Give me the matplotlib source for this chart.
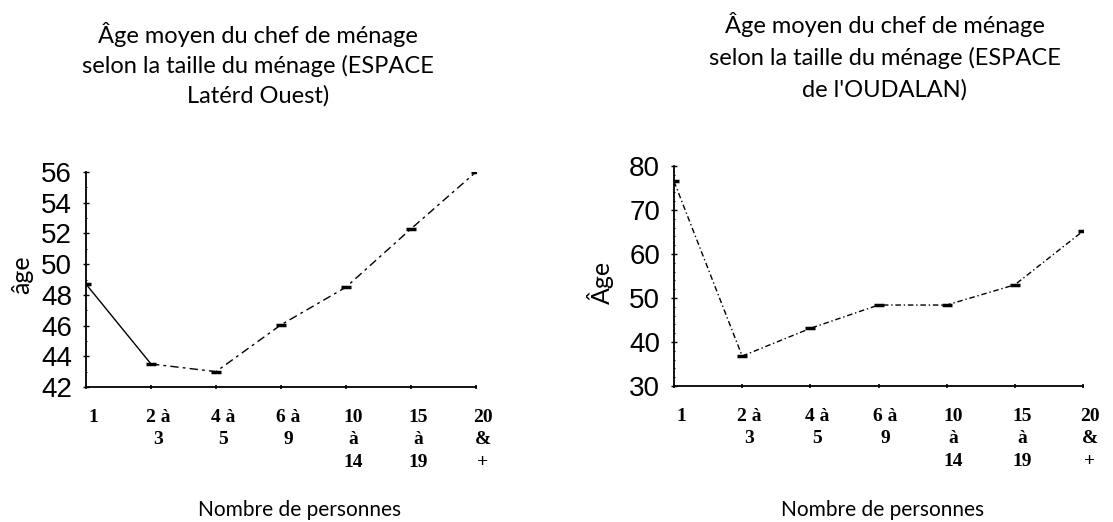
import matplotlib
matplotlib.use("Agg")
from matplotlib import pyplot as plt
from matplotlib.ticker import MultipleLocator
import matplotlib.transforms as mtransforms

categories = ["1", "2 à\n3", "4 à\n5", "6 à\n9", "10\nà\n14", "15\nà\n19", "20\n&\n+"]
age_lateral = [48.7, 43.5, 43.0, 46.05, 48.5, 52.3, 56.0]
age_oudalan = [76.5, 36.8, 43.1, 48.4, 48.4, 53.0, 65.2]

title_left = "Âge moyen du chef de ménage\nselon la taille du ménage (ESPACE\nLatérd Ouest)"
title_right = "Âge moyen du chef de ménage\nselon la taille du ménage (ESPACE\nde l'OUDALAN)"
xlabel = "Nombre de personnes"

title_font = dict(family=["Lato", "DejaVu Sans"], weight="normal", color="black")
tick_font = dict(family="Liberation Serif", weight="bold")

fig = plt.figure(figsize=(11.13, 5.22), dpi=100)
W, H = 1113, 522

def box(x0, x1, ytop, ybot):
    return [x0 / W, 1 - ybot / H, (x1 - x0) / W, (ybot - ytop) / H]

ax1 = fig.add_axes(box(86, 476, 172, 387))
ax2 = fig.add_axes(box(674, 1083, 166, 386))

x = list(range(len(categories)))

# left: first segment solid, the rest dashed
ax1.plot(x[:2], age_lateral[:2], color="black", lw=1.0)
ax1.plot(x[1:], age_lateral[1:], color="black", lw=1.0, dashes=(6, 3, 2, 3))
ax1.plot(x, age_lateral, ls="none", marker="_", ms=7, mew=2.5, color="black")
ax1.set_ylim(42, 56)
ax1.yaxis.set_major_locator(MultipleLocator(2))
ax1.yaxis.set_minor_locator(MultipleLocator(1))

ax2.plot(x, age_oudalan, color="black", lw=1.0, dashes=(4, 2, 1, 2))
ax2.plot(x, age_oudalan, ls="none", marker="_", ms=7, mew=2.5, color="black")
ax2.set_ylim(30, 80)
ax2.yaxis.set_major_locator(MultipleLocator(10))
ax2.yaxis.set_minor_locator(MultipleLocator(2))

for ax in (ax1, ax2):
    ax.set_xlim(0, len(categories) - 1)
    for s in ("top", "right"):
        ax.spines[s].set_visible(False)
    ax.spines["left"].set_linewidth(1.3)
    ax.spines["bottom"].set_linewidth(1.3)
    ax.set_xticks(x)
    ax.set_xticklabels(categories, fontsize=14, linespacing=1.45, **tick_font)
    ax.tick_params(axis="x", length=3, width=1.2, direction="inout", pad=14)
    ax.tick_params(axis="y", which="major", length=4, width=1.0, direction="inout",
                   labelsize=20, pad=8)
    ax.tick_params(axis="y", which="minor", length=2, width=0.8, direction="inout")
    for lab in ax.get_yticklabels():
        lab.set_family("Liberation Sans")
    off = mtransforms.ScaledTranslation(7 / 100, 0, fig.dpi_scale_trans)
    for lab in ax.get_xticklabels():
        lab.set_transform(lab.get_transform() + off)
        lab.set_verticalalignment("top")

fig.text(22 / W, 1 - 275 / H, "âge", rotation=90, ha="center", va="center", fontsize=18, **title_font)
fig.text(600 / W, 1 - 282 / H, "Âge", rotation=90, ha="center", va="center", fontsize=18, **title_font)

fig.text(258 / W, 1 - 22 / H, title_left, ha="center", va="top", fontsize=17,
         linespacing=1.45, **title_font)
fig.text(885 / W, 1 - 12 / H, title_right, ha="center", va="top", fontsize=17,
         linespacing=1.55, **title_font)

fig.text(300 / W, 1 - 510 / H, xlabel, ha="center", va="center", fontsize=15, **title_font)
fig.text(883 / W, 1 - 510 / H, xlabel, ha="center", va="center", fontsize=15, **title_font)

fig.savefig("out.png", dpi=100)
